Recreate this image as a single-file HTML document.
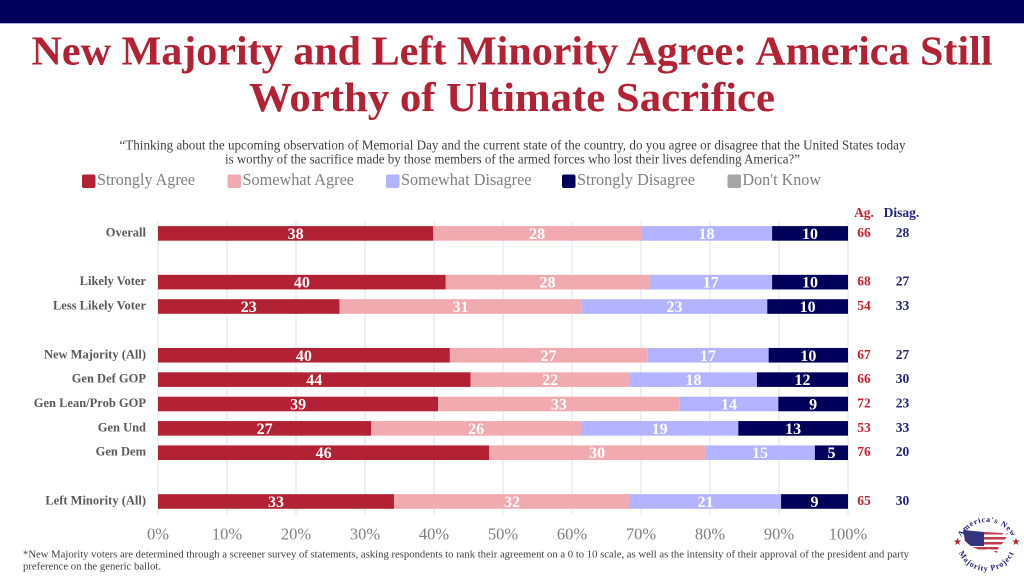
<!DOCTYPE html>
<html lang="en">
<head>
<meta charset="utf-8">
<title>New Majority and Left Minority Agree</title>
<style>
html,body{margin:0;padding:0;background:#fff;width:1024px;height:576px;overflow:hidden}
svg{display:block;font-family:"Liberation Serif",serif}
</style>
</head>
<body>
<svg id="chart" xmlns="http://www.w3.org/2000/svg" width="1024" height="576" viewBox="0 0 1024 576">
  <rect width="1024" height="576" fill="#fff"/>
  <rect width="1024" height="23" fill="#00005a"/>
  <rect y="23" width="1024" height="1" fill="#b3b3e0"/>
  <g fill="#b22234" font-weight="bold" font-size="41" text-anchor="middle">
    <text x="512" y="64.5" textLength="961" lengthAdjust="spacingAndGlyphs">New Majority and Left Minority Agree: America Still</text>
    <text x="512" y="111" textLength="526" lengthAdjust="spacingAndGlyphs">Worthy of Ultimate Sacrifice</text>
  </g>
  <g fill="#404040" font-size="13.5" text-anchor="middle">
    <text x="512.5" y="149.5" textLength="786" lengthAdjust="spacingAndGlyphs">“Thinking about the upcoming observation of Memorial Day and the current state of the country, do you agree or disagree that the United States today</text>
    <text x="512.5" y="163.5" textLength="575" lengthAdjust="spacingAndGlyphs">is worthy of the sacrifice made by those members of the armed forces who lost their lives defending America?”</text>
  </g>
  <g id="grid"></g>
  <g id="legend"></g>
  <g id="bars"></g>
  <g id="cats"></g>
  <g id="ticks"></g>
  <g id="totals"></g>
  <g fill="#404040" font-size="10">
    <text x="23" y="557.5" textLength="886" lengthAdjust="spacingAndGlyphs">*New Majority voters are determined through a screener survey of statements, asking respondents to rank their agreement on a 0 to 10 scale, as well as the intensity of their approval of the president and party</text>
    <text x="23" y="569.5" textLength="138" lengthAdjust="spacingAndGlyphs">preference on the generic ballot.</text>
  </g>
  <g>
    <defs>
      <clipPath id="usMap">
        <path d="M963 530 L984 532 L1003 533 L1002 536 L1008 533 L1004 542 L999 546 L997 553 L990 549 L980 550 L972 547 L965 541 Z"/>
      </clipPath>
      <path id="arcTop" d="M958 551 A29 29 0 0 1 1016 551"/>
      <path id="arcBottom" d="M956.5 541 A30 30 0 0 0 1016.5 541"/>
    </defs>
    <g clip-path="url(#usMap)">
      <rect x="962" y="529" width="48" height="25" fill="#fff"/>
      <rect x="962" y="532" width="48" height="2.5" fill="#c23a4b"/>
      <rect x="962" y="537" width="48" height="2.5" fill="#c23a4b"/>
      <rect x="962" y="542" width="48" height="2.5" fill="#c23a4b"/>
      <rect x="962" y="547" width="48" height="2.5" fill="#c23a4b"/>
      <rect x="962" y="551" width="48" height="2.5" fill="#c23a4b"/>
      <rect x="962" y="529" width="22" height="17" fill="#33337f"/>
    </g>
    <text font-size="8" font-weight="bold" fill="#23237a" letter-spacing="0.8" text-anchor="middle"><textPath href="#arcTop" startOffset="50%">America's New</textPath></text>
    <text font-size="8" font-weight="bold" fill="#23237a" letter-spacing="0.8" text-anchor="middle"><textPath href="#arcBottom" startOffset="50%">Majority Project</textPath></text>
    <text x="957.5" y="545" font-size="10" text-anchor="middle" fill="#b22234" font-family="DejaVu Sans, sans-serif">★</text>
    <text x="1016" y="545" font-size="10" text-anchor="middle" fill="#b22234" font-family="DejaVu Sans, sans-serif">★</text>
  </g>
</svg>
<script>
const categories = ["Overall", "", "Likely Voter", "Less Likely Voter", "", "New Majority (All)", "Gen Def GOP", "Gen Lean/Prob GOP", "Gen Und", "Gen Dem", "", "Left Minority (All)"];
// Segment widths in axis percent.
const stronglyAgreeShare = [39.9, null, 41.7, 26.3, null, 42.3, 45.3, 40.6, 30.9, 48.0, null, 34.2];
const somewhatAgreeShare = [30.1, null, 29.5, 35.1, null, 28.6, 23.1, 35.0, 30.4, 31.3, null, 34.2];
const somewhatDisagreeShare = [19.0, null, 17.8, 26.9, null, 17.6, 18.4, 14.3, 22.8, 15.9, null, 21.9];
const stronglyDisagreeShare = [11.0, null, 11.0, 11.7, null, 11.5, 13.2, 10.1, 15.9, 4.8, null, 9.7];
// Numbers printed on the bars.
const stronglyAgreeLabels = [38, null, 40, 23, null, 40, 44, 39, 27, 46, null, 33];
const somewhatAgreeLabels = [28, null, 28, 31, null, 27, 22, 33, 26, 30, null, 32];
const somewhatDisagreeLabels = [18, null, 17, 23, null, 17, 18, 14, 19, 15, null, 21];
const stronglyDisagreeLabels = [10, null, 10, 10, null, 10, 12, 9, 13, 5, null, 9];
const agreeTotals = [66, null, 68, 54, null, 67, 66, 72, 53, 76, null, 65];
const disagreeTotals = [28, null, 27, 33, null, 27, 30, 23, 33, 20, null, 30];
const xTicks = [0, 10, 20, 30, 40, 50, 60, 70, 80, 90, 100];
const legendLabels = ["Strongly Agree", "Somewhat Agree", "Somewhat Disagree", "Strongly Disagree", "Don't Know"];

const SVGNS = 'http://www.w3.org/2000/svg';
const PLOT = {left: 158, right: 848, top: 221, bottom: 515, firstRow: 233.4, rowStep: 24.37, barH: 14.6};
const seriesShares = [stronglyAgreeShare, somewhatAgreeShare, somewhatDisagreeShare, stronglyDisagreeShare];
const seriesLabels = [stronglyAgreeLabels, somewhatAgreeLabels, somewhatDisagreeLabels, stronglyDisagreeLabels];
const seriesColors = ['#b22234', '#f0aab0', '#b3b3ff', '#00005a'];
const seriesKeys = ['strongly-agree', 'somewhat-agree', 'somewhat-disagree', 'strongly-disagree'];
const legendColors = ['#b22234', '#f0aab0', '#b3b3ff', '#00005a', '#a6a6a6'];
const legendSwatchX = [82, 227.5, 386, 562, 727.5];
const legendTextWidth = [98, 111.5, 130.5, 118, 78.5];

function x(pct) { return PLOT.left + (PLOT.right - PLOT.left) * pct / 100; }
function y(rowIndex) { return PLOT.firstRow + PLOT.rowStep * rowIndex; }
function slug(s) { return s.toLowerCase().replace(/[^a-z0-9]+/g, '-').replace(/^-|-$/g, ''); }

function addRect(parent, name, rx, ry, w, h, fill, radius) {
  const el = document.createElementNS(SVGNS, 'rect');
  
  
  el.setAttribute('x', rx);
  el.setAttribute('y', ry);
  el.setAttribute('width', w);
  el.setAttribute('height', h);
  el.setAttribute('fill', fill);
  if (radius) el.setAttribute('rx', radius);
  parent.appendChild(el);
  return el;
}

function addText(parent, name, tx, ty, content, size, fill, anchor, bold) {
  const el = document.createElementNS(SVGNS, 'text');
  
  
  el.setAttribute('x', tx);
  el.setAttribute('y', ty);
  el.setAttribute('font-size', size);
  el.setAttribute('fill', fill);
  el.setAttribute('text-anchor', anchor);
  if (bold) el.setAttribute('font-weight', 'bold');
  el.textContent = content;
  parent.appendChild(el);
  return el;
}

const gridG = document.getElementById('grid');
const barsG = document.getElementById('bars');
const catsG = document.getElementById('cats');
const ticksG = document.getElementById('ticks');
const totalsG = document.getElementById('totals');
const legendG = document.getElementById('legend');

xTicks.forEach(function (t) {
  addRect(gridG, 'gridline-' + t, x(t) - 0.5, PLOT.top, 1, PLOT.bottom - PLOT.top, '#e2e2e2');
  addText(ticksG, 'x-tick-' + t, x(t), 539.5, t + '%', 16.5, '#7f7f7f', 'middle', false);
});

categories.forEach(function (cat, i) {
  if (!cat) return;
  const rowSlug = slug(cat);
  addText(catsG, 'category-' + rowSlug, 146, y(i) + 3, cat, 12.5, '#595959', 'end', true);
  let cum = 0;
  seriesShares.forEach(function (s, k) {
    const start = cum;
    cum += s[i];
    const end = cum;
    addRect(barsG, 'bar-' + rowSlug + '-' + seriesKeys[k], x(start), y(i) - PLOT.barH / 2, x(end) - x(start), PLOT.barH, seriesColors[k]);
    addText(barsG, 'value-' + rowSlug + '-' + seriesKeys[k], x((start + end) / 2), y(i) + 5.5, seriesLabels[k][i], 16, '#fff', 'middle', true);
  });
  addText(totalsG, 'agree-total-' + rowSlug, 864, y(i) + 3.5, agreeTotals[i], 13.5, '#c8202c', 'middle', true);
  addText(totalsG, 'disagree-total-' + rowSlug, 902.5, y(i) + 3.5, disagreeTotals[i], 13.5, '#23237a', 'middle', true);
});

addText(totalsG, 'agree-column-header', 864, 217, 'Ag.', 13.5, '#c8202c', 'middle', true);
addText(totalsG, 'disagree-column-header', 901.5, 217, 'Disag.', 13.5, '#23237a', 'middle', true);

legendLabels.forEach(function (label, i) {
  addRect(legendG, 'legend-swatch-' + slug(label), legendSwatchX[i], 174.5, 13.5, 13.5, legendColors[i], 2);
  const t = addText(legendG, 'legend-label-' + slug(label), legendSwatchX[i] + 15, 185, label, 16.5, '#7f7f7f', 'start', false);
  t.setAttribute('textLength', legendTextWidth[i]);
  t.setAttribute('lengthAdjust', 'spacingAndGlyphs');
});
</script>
</body>
</html>
